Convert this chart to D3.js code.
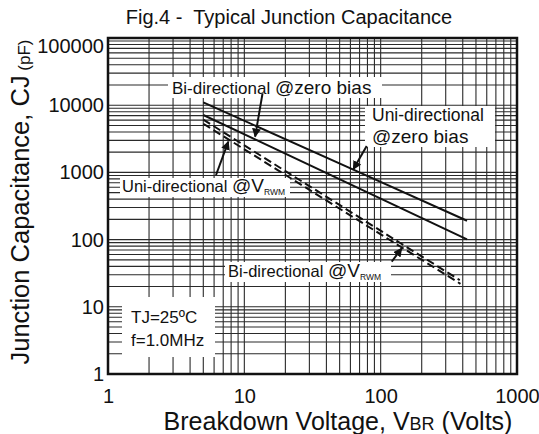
<!DOCTYPE html>
<html><head><meta charset="utf-8">
<script src="https://cdn.jsdelivr.net/npm/d3@7"></script>
<style>
body{margin:0;background:#fff;}
svg text{font-family:"Liberation Sans",Arial,sans-serif;fill:#111;}
</style></head><body>
<svg id="chart" width="539" height="434"></svg>
<script>
// ---- data ----
const xTickValues = [1, 10, 100, 1000];
const yTickValues = [1, 10, 100, 1000, 10000, 100000];
const uniZeroV = [5, 63, 430],  uniZeroC = [11000, 1100, 191];   // Uni-directional @zero bias
const biZeroV  = [5, 12, 430],  biZeroC  = [7150, 3100, 101];    // Bi-directional @zero bias
const uniVrwmV = [5, 139, 380], uniVrwmC = [6100, 89, 25];       // Uni-directional @VRWM
const biVrwmV  = [5, 142, 385], biVrwmC  = [5300, 77, 22];       // Bi-directional @VRWM

const svg = d3.select("#chart");
const L = 108, R = 517, T = 38, B = 374;
const x = d3.scaleLog().domain([1, 1000]).range([L, R]);
const y = d3.scaleLog().domain([1, 100000]).range([B, T]);

// grid
const g = svg.append("g");
g.selectAll("line.vx").data(x.ticks()).join("line")
  .attr("x1", d => x(d)).attr("x2", d => x(d)).attr("y1", T).attr("y2", B)
  .attr("stroke", "#2a2a2a").attr("stroke-width", 1.1);
g.selectAll("line.hy").data(y.ticks()).join("line")
  .attr("y1", d => y(d)).attr("y2", d => y(d)).attr("x1", L).attr("x2", R)
  .attr("stroke", "#2a2a2a").attr("stroke-width", 1.1);

// white label boxes
const boxes = [
  [168, 77, 214, 21],
  [365, 106, 130, 41],
  [120, 178, 170, 19],
  [225, 262, 166, 20],
  [122, 297, 93, 60]
];
svg.selectAll("rect.box").data(boxes).join("rect")
  .attr("x", d => d[0]).attr("y", d => d[1]).attr("width", d => d[2]).attr("height", d => d[3])
  .attr("fill", "#fff");

// curves
const line = d3.line().x(d => x(d[0])).y(d => y(d[1]));
const series = [
  {v: uniZeroV, c: uniZeroC, dash: null},
  {v: biZeroV, c: biZeroC, dash: null},
  {v: uniVrwmV, c: uniVrwmC, dash: "8,4"},
  {v: biVrwmV, c: biVrwmC, dash: "8,4"}
];
series.forEach(s => {
  svg.append("path").datum(s.v.map((v, i) => [v, s.c[i]]))
    .attr("d", line).attr("fill", "none").attr("stroke", "#111")
    .attr("stroke-width", 2).attr("stroke-dasharray", s.dash);
});

// arrows
const defs = svg.append("defs");
defs.append("marker").attr("id", "ah").attr("viewBox", "0 0 10 10")
  .attr("refX", 9).attr("refY", 5).attr("markerWidth", 9).attr("markerHeight", 9)
  .attr("markerUnits", "userSpaceOnUse").attr("orient", "auto")
  .append("path").attr("d", "M0,0 L10,5 L0,10 z").attr("fill", "#111");
const arrows = [
  [[13.6, 15000], [12, 3400]],
  [[79, 2470], [63, 1112]],
  [[6.2, 915], [7.63, 2864]],
  [[120.5, 46.9], [142.7, 74.2]]
];
arrows.forEach(a => {
  svg.append("line").attr("x1", x(a[0][0])).attr("y1", y(a[0][1]))
    .attr("x2", x(a[1][0])).attr("y2", y(a[1][1]))
    .attr("stroke", "#111").attr("stroke-width", 2).attr("marker-end", "url(#ah)");
});

// annotation text
function label(px, py, parts) {
  const t = svg.append("text").attr("x", px).attr("y", py);
  parts.forEach(p => {
    const ts = t.append("tspan").text(p[0]).attr("font-size", p[1]);
    if (p[2]) ts.attr("dy", p[2]);
  });
  return t;
}
label(172, 94, [["Bi-directional ", 17], ["@zero bias", 19]]);
label(372, 121, [["Uni-directional", 17.5]]);
label(372, 143, [["@zero bias", 19]]);
label(122, 192, [["Uni-directional ", 16.5], ["@V", 19], ["RWM", 8.5, 3]]);
label(228, 277, [["Bi-directional ", 16.5], ["@V", 19], ["RWM", 8.5, 3]]);
label(131, 323, [["TJ=25ºC", 17]]);
label(131, 346, [["f=1.0MHz", 17]]);

// axes
const xa = svg.append("g").attr("transform", `translate(0,${B})`)
  .call(d3.axisBottom(x).tickValues(xTickValues).tickSize(0).tickPadding(15).tickFormat(d3.format("d")));
xa.select(".domain").remove();
xa.selectAll("text").attr("font-size", 20).attr("font-family", "Liberation Sans, Arial, sans-serif").attr("fill", "#111");
const ya = svg.append("g").attr("transform", `translate(${L},0)`)
  .call(d3.axisLeft(y).tickValues(yTickValues).tickSize(0).tickPadding(4).tickFormat(d3.format("d")));
ya.select(".domain").remove();
ya.selectAll("text").attr("font-size", 20).attr("font-family", "Liberation Sans, Arial, sans-serif").attr("fill", "#111");
ya.selectAll(".tick").filter(d => d === 100000).select("text").attr("dy", "0.7em");

// border
svg.append("rect").attr("x", L).attr("y", T).attr("width", R - L).attr("height", B - T)
  .attr("fill", "none").attr("stroke", "#111").attr("stroke-width", 2.5);

// titles
svg.append("text").attr("x", 289).attr("y", 24).attr("text-anchor", "middle")
  .attr("font-size", 20).style("white-space", "pre").text("Fig.4 -  Typical Junction Capacitance");
const xt = svg.append("text").attr("x", 338).attr("y", 430).attr("text-anchor", "middle").attr("font-size", 25);
xt.append("tspan").text("Breakdown Voltage, V");
xt.append("tspan").text("BR").attr("font-size", 18);
xt.append("tspan").text(" (Volts)");
const yt = svg.append("text").attr("transform", "translate(29,202) rotate(-90)").attr("text-anchor", "middle").attr("font-size", 25.5);
yt.append("tspan").text("Junction Capacitance, CJ");
yt.append("tspan").text(" (pF)").attr("font-size", 17).attr("dy", 1);
</script>
</body></html>
